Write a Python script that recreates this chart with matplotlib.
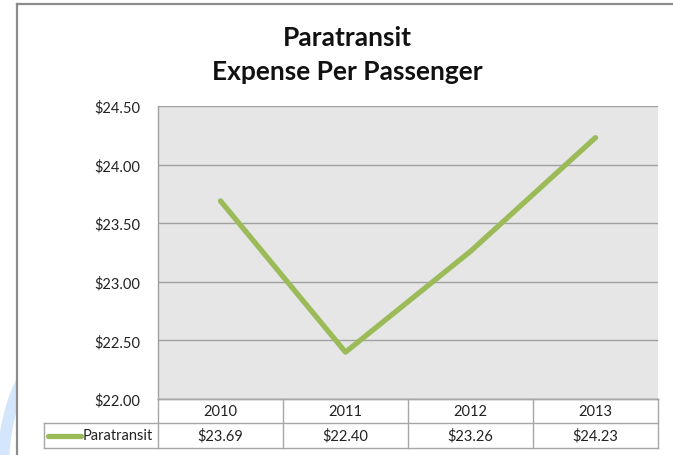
import matplotlib
matplotlib.use("Agg")
import matplotlib.pyplot as plt
from matplotlib.patches import Arc, Rectangle
from matplotlib.lines import Line2D
import matplotlib.transforms as mtransforms

years = ["2010", "2011", "2012", "2013"]
values = [23.69, 22.40, 23.26, 24.23]
series_name = "Paratransit"
title = "Paratransit\nExpense Per Passenger"
yticks = [22.0, 22.5, 23.0, 23.5, 24.0, 24.5]

plt.rcParams['font.family'] = ['Lato', 'DejaVu Sans']
W, H = 673, 456
fig = plt.figure(figsize=(W / 100, H / 100), dpi=100)
fig.patch.set_facecolor("white")

def fx(px):
    return px / W

def fy(py):
    return 1 - py / H

# decorative blue arc at bottom-left (behind the chart)
arc = Arc((fx(75), fy(470)), 2 * 72 / W, 2 * 130 / H, theta1=90, theta2=200,
          transform=fig.transFigure, color="#d3e6fb", lw=8.5, zorder=-2)
fig.add_artist(arc)
fig.add_artist(Rectangle((fx(17), 0), 1 - fx(17), fy(5), transform=fig.transFigure,
                         facecolor="white", edgecolor="none", zorder=-1))

# chart border
fig.add_artist(Line2D([fx(17), fx(17)], [fy(5), 0], transform=fig.transFigure,
                      color="#8c8c8c", lw=1.6, zorder=1))
fig.add_artist(Line2D([fx(17), 1], [fy(5), fy(5)], transform=fig.transFigure,
                      color="#8c8c8c", lw=1.6, zorder=1))

left, right, top, bottom = 158, 658, 107, 400
ax = fig.add_axes([fx(left), fy(bottom), fx(right - left), (bottom - top) / H])
ax.set_facecolor("#e6e6e6")
x = list(range(len(years)))
ax.plot(x, values, color="#9bbb59", lw=3.8, solid_capstyle="round", zorder=3)
ax.set_xlim(-0.5, len(years) - 0.5)
ax.set_ylim(yticks[0], yticks[-1])
ax.set_yticks(yticks)
ax.set_yticklabels([f"${v:.2f}" for v in yticks], fontsize=10.5, color="#222222")
ax.tick_params(axis="y", length=0, pad=13)
ax.set_xticks([])
ax.grid(axis="y", color="#a0a0a0", lw=1)
ax.set_axisbelow(True)
for s in ["top", "right"]:
    ax.spines[s].set_visible(False)
ax.spines["left"].set_color("#a0a0a0")
ax.spines["bottom"].set_color("#a0a0a0")
ax.spines["left"].set_linewidth(1)
ax.spines["bottom"].set_linewidth(1)

# data table
tr = mtransforms.blended_transform_factory(ax.transData, fig.transFigure)
lc = "#a6a6a6"
r0, r1, r2 = fy(400), fy(424), fy(449)
xl = -0.5 - (left - 44) / ((right - left) / len(years))
for xb in [i - 0.5 for i in range(len(years) + 1)]:
    fig.add_artist(Line2D([xb, xb], [r0, r2], transform=tr, color=lc, lw=1, clip_on=False))
fig.add_artist(Line2D([xl, xl], [r1, r2], transform=tr, color=lc, lw=1, clip_on=False))
fig.add_artist(Line2D([-0.5, len(years) - 0.5], [r0, r0], transform=tr, color=lc, lw=1, clip_on=False))
for yy in [r1, r2]:
    fig.add_artist(Line2D([xl, len(years) - 0.5], [yy, yy], transform=tr, color=lc, lw=1, clip_on=False))
for i, (yr, v) in enumerate(zip(years, values)):
    fig.text(i, (r0 + r1) / 2, yr, transform=tr, ha="center", va="center", fontsize=10.5, color="#222222")
    fig.text(i, (r1 + r2) / 2, f"${v:.2f}", transform=tr, ha="center", va="center", fontsize=10.5, color="#222222")
# legend key
fig.add_artist(Line2D([fx(48), fx(81)], [(r1 + r2) / 2] * 2, transform=fig.transFigure,
                      color="#9bbb59", lw=3.8, solid_capstyle="round"))
fig.text(fx(83), (r1 + r2) / 2, series_name, ha="left", va="center", fontsize=10.5, color="#222222")

fig.text(fx(347), fy(55), title, ha="center", va="center", fontsize=19, fontweight="bold",
         color="#111111", linespacing=1.45)

fig.savefig("out.png", dpi=100)
